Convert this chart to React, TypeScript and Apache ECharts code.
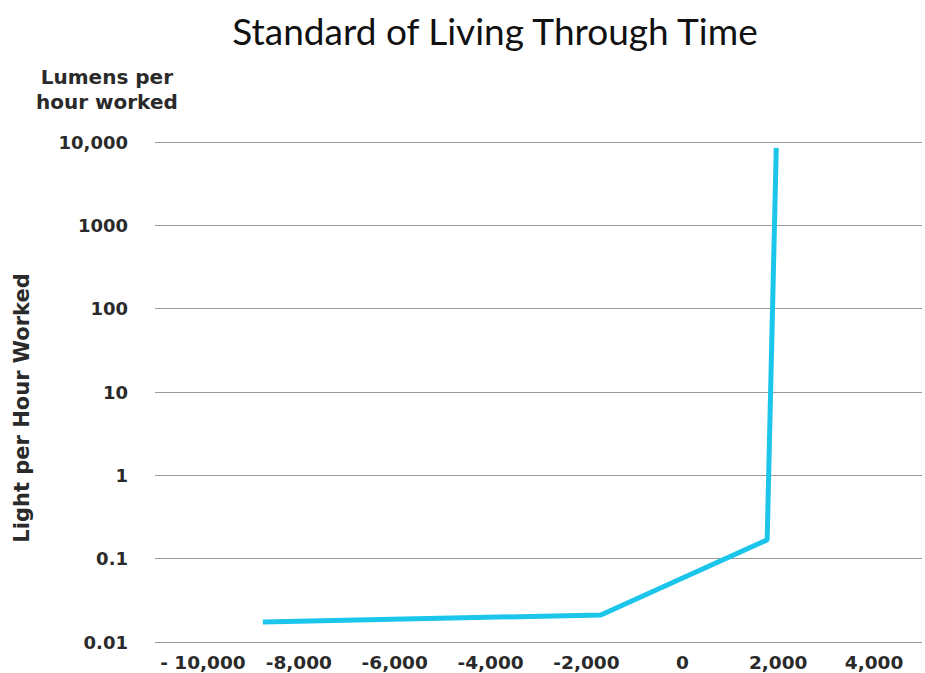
import React, { useEffect, useRef } from "react";
import * as echarts from "echarts";

const years = [-8750, -1700, 1770, 1960];
const lumensPerHour = [0.0174, 0.0211, 0.168, 8500];
const yTickLabels = ["0.01", "0.1", "1", "10", "100", "1000", "10,000"];
const xTickValues = [-10000, -8000, -6000, -4000, -2000, 0, 2000, 4000];
const xTickLabels = ["- 10,000", "-8,000", "-6,000", "-4,000", "-2,000", "0", "2,000", "4,000"];

const TITLE_FONT = "Lato, 'Open Sans', sans-serif";
const FONT = "'DejaVu Sans', sans-serif";
const TEXT_COLOR = "#2a2a2a";

export default function App() {
  const ref = useRef<HTMLDivElement>(null);
  useEffect(() => {
    if (!ref.current) return;
    const chart = echarts.init(ref.current, null, { renderer: "svg" });
    chart.setOption({
      animation: false,
      backgroundColor: "#ffffff",
      title: {
        text: "Standard of Living Through Time",
        left: 490,
        textAlign: "center",
        top: 7,
        textStyle: { fontFamily: TITLE_FONT, fontSize: 37, fontWeight: "normal", color: "#111" },
      },
      graphic: [
        {
          type: "text",
          left: 36,
          top: 64,
          style: {
            text: "Lumens per\nhour worked",
            fontFamily: FONT,
            fontSize: 20,
            fontWeight: "bold",
            lineHeight: 25,
            fill: TEXT_COLOR,
            align: "center",
            textAlign: "center",
          },
        },
        {
          type: "text",
          x: 22,
          y: 408,
          rotation: Math.PI / 2,
          style: {
            text: "Light per Hour Worked",
            fontFamily: FONT,
            fontSize: 21,
            fontWeight: "bold",
            fill: TEXT_COLOR,
            align: "center",
            verticalAlign: "middle",
          },
        },
      ],
      grid: { left: 155, right: 0, top: 142, bottom: 31, containLabel: false },
      xAxis: {
        type: "value",
        min: -11000,
        max: 5000,
        interval: 1000,
        axisLine: { show: false },
        axisTick: { show: false },
        splitLine: { show: false },
        axisLabel: {
          margin: 11,
          fontFamily: FONT,
          fontSize: 18.5,
          fontWeight: "bold",
          color: TEXT_COLOR,
          formatter: (v: number) => {
            const i = xTickValues.indexOf(Math.round(v));
            return i >= 0 ? xTickLabels[i] : "";
          },
        },
      },
      yAxis: {
        type: "log",
        logBase: 10,
        min: 0.01,
        max: 10000,
        axisLine: { show: false },
        axisTick: { show: false },
        splitLine: { show: true, lineStyle: { color: "#9a9a9a", width: 1.2 } },
        axisLabel: {
          margin: 27,
          fontFamily: FONT,
          fontSize: 18,
          fontWeight: "bold",
          color: TEXT_COLOR,
          formatter: (v: number) => {
            const i = Math.round(Math.log10(v)) + 2;
            return yTickLabels[i] ?? "";
          },
        },
      },
      series: [
        {
          type: "line",
          data: years.map((y, i) => [y, lumensPerHour[i]]),
          showSymbol: false,
          symbol: "none",
          lineStyle: { color: "#1cc6ea", width: 5 },
        },
      ],
    });
    return () => chart.dispose();
  }, []);
  return (
    <div
      ref={ref}
      style={{ position: "fixed", left: 0, top: 0, width: 925, height: 673 }}
    />
  );
}
